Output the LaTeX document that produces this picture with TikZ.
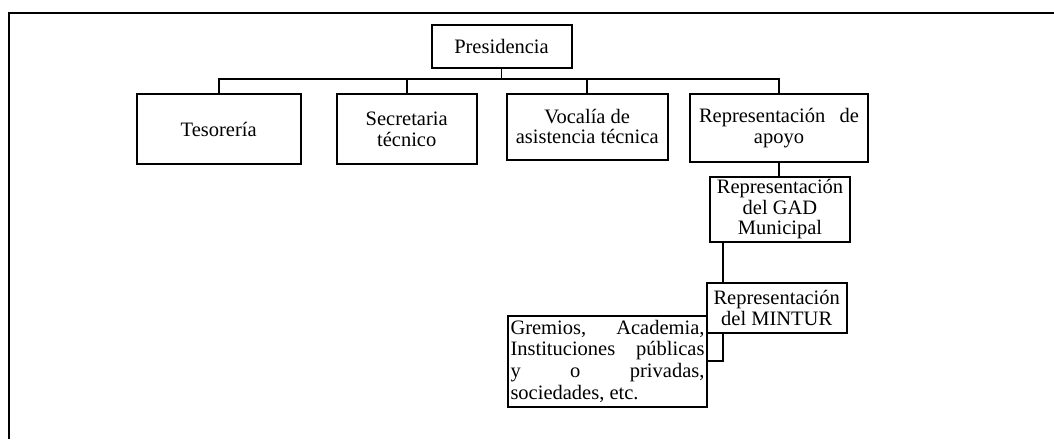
\documentclass[tikz,border=0pt]{standalone}
\usepackage{fontspec}
\setmainfont{Liberation Serif}
\begin{document}
\begin{tikzpicture}[x=1pt,y=-1pt,
  box/.style={draw,line width=2pt,inner sep=1pt,align=center,
    font=\fontsize{20.5}{20.5}\selectfont},
  link/.style={line width=1.8pt}]
\useasboundingbox (0,0) rectangle (1054,439);
% outer frame (open on the right and bottom)
\draw[line width=2.6pt] (1054,13) -- (9,13) -- (9,439);

% first level
\node[box,minimum width=140pt,minimum height=43pt] (pres) at (501.5,46.7) {Presidencia};
\node[box,minimum width=164pt,minimum height=70pt] (tes) at (218.7,129) {Tesorería};
\node[box,minimum width=140pt,minimum height=70pt] (sec) at (406.7,129.3) {Secretaria\\técnico};
\node[box,minimum width=161pt,minimum height=66pt] (voc) at (587.2,126.5) {Vocalía de\\asistencia técnica};
\node[box,minimum width=177.5pt,minimum height=68pt] (apo) at (779,128.3)
  {\makebox[160pt]{Representación\hfill de}\\apoyo};

% lower chain
\node[box,minimum width=140pt,minimum height=65pt] (gad) at (780,209.2)
  {Representación\\del GAD\\Municipal};
\node[box,minimum width=140pt,minimum height=49.4pt] (min) at (776.7,308)
  {Representación\\del MINTUR};
\node[box,minimum width=198.4pt,minimum height=90.7pt,align=left,
  font=\fontsize{20.5}{21.7}\selectfont] (gre) at (607.5,361.3)
  {\makebox[194pt]{Gremios,\hfill Academia,}\\
   \makebox[194pt]{Instituciones\hfill públicas}\\
   \makebox[194pt]{y\hfill o\hfill privadas,}\\
   \makebox[194pt]{sociedades, etc.\hfill}};

% connectors
\coordinate (bus) at (0,79);
\draw[link] (pres.south) -- (pres.south |- bus);
\draw[link] (tes.north) -- (tes.north |- bus) -- (apo.north |- bus) -- (apo.north);
\draw[link] (sec.north) -- (sec.north |- bus);
\draw[link] (voc.north) -- (voc.north |- bus);
\draw[link] (apo.south) -- (apo.south |- gad.north);
\coordinate (drop) at ([xshift=14pt]gad.south west);
\draw[link] (drop) -- (drop |- min.north);
\draw[link] (drop |- min.south) |- (gre.east);
\end{tikzpicture}
\end{document}
